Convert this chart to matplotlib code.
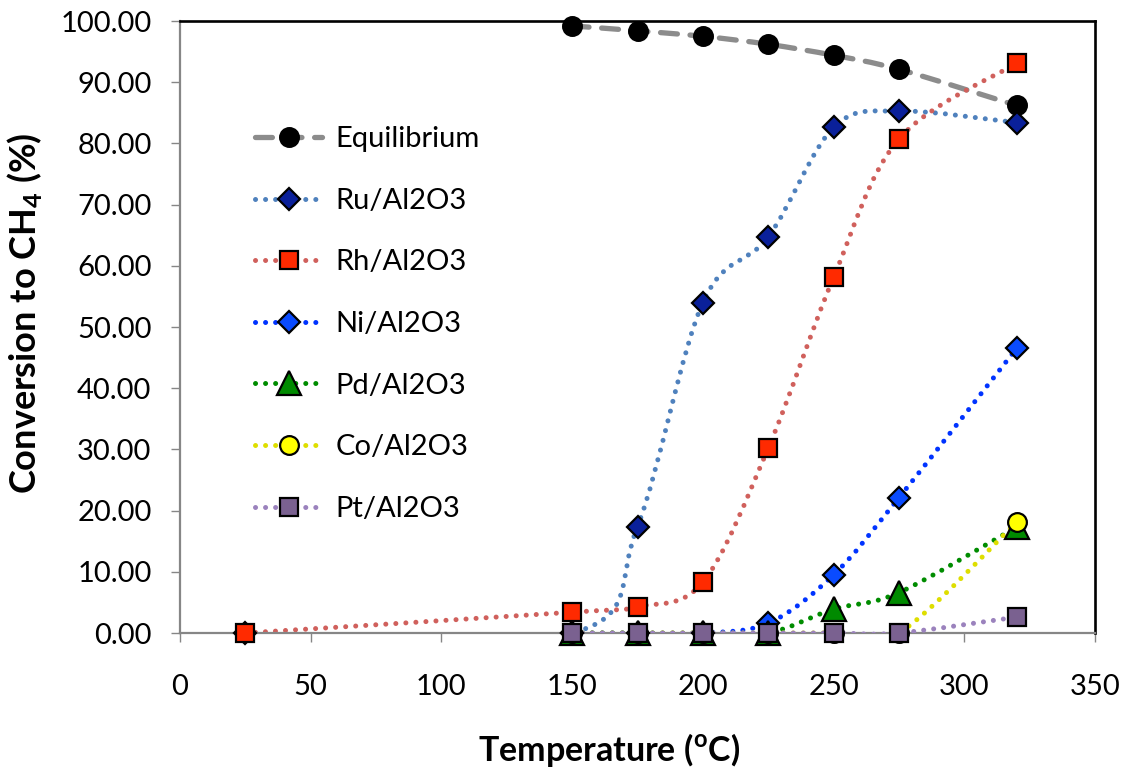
import numpy as np
import matplotlib
matplotlib.use("Agg")
from matplotlib import pyplot as plt
from matplotlib.path import Path
from matplotlib.patches import PathPatch
from matplotlib.lines import Line2D

plt.rcParams['font.family'] = ['Lato', 'DejaVu Sans']
plt.rcParams['mathtext.fontset'] = 'custom'
plt.rcParams['mathtext.rm'] = 'Lato'
plt.rcParams['mathtext.bf'] = 'Lato:bold'

##### data
temp_eq = [150, 175, 200, 225, 250, 275, 320]
equilibrium = [99.2, 98.4, 97.5, 96.2, 94.4, 92.1, 86.2]

temp_ru = [25, 150, 175, 200, 225, 250, 275, 320]
ru = [0.0, 0.0, 17.4, 54.0, 64.7, 82.6, 85.3, 83.4]

temp_rh = [25, 150, 175, 200, 225, 250, 275, 320]
rh = [0.0, 3.4, 4.3, 8.3, 30.2, 58.1, 80.7, 93.1]

temp_cat = [150, 175, 200, 225, 250, 275, 320]
ni = [0.0, 0.0, 0.0, 1.6, 9.5, 22.1, 46.5]
pd_ = [0.0, 0.0, 0.0, 0.0, 3.9, 6.6, 17.3]
co = [0.0, 0.0, 0.0, 0.0, 0.0, 0.0, 18.1]
pt = [0.0, 0.0, 0.0, 0.0, 0.0, 0.0, 2.6]

x_ticks = [0, 50, 100, 150, 200, 250, 300, 350]
y_ticks = [0, 10, 20, 30, 40, 50, 60, 70, 80, 90, 100]

DOT = (0, (0.01, 2.0))

# (label, x, y, line colour, marker, face colour, marker size, line style, line width)
series = [
    ('Equilibrium', temp_eq, equilibrium, '#8c8c8c', 'o', '#000000', 13.5, (0, (3.2, 2.4)), 3.8),
    ('Ru/Al2O3', temp_ru, ru, '#4f81bd', 'D', '#0a209a', 11.5, DOT, 3.6),
    ('Rh/Al2O3', temp_rh, rh, '#d0605c', 's', '#ff2a00', 13, DOT, 3.6),
    ('Ni/Al2O3', temp_cat, ni, '#0033ff', 'D', '#0a4bff', 11.5, DOT, 3.6),
    ('Pd/Al2O3', temp_cat, pd_, '#008c00', '^', '#008a00', 17, DOT, 3.6),
    ('Co/Al2O3', temp_cat, co, '#dede00', 'o', '#ffff00', 13.5, DOT, 3.6),
    ('Pt/Al2O3', temp_cat, pt, '#9b82bd', 's', '#7a6190', 13, DOT, 3.6),
]


def smooth_path(x, y):
    # Excel-style smoothed line: Catmull-Rom through the points as cubic Beziers
    p = np.column_stack([x, y]).astype(float)
    verts = [p[0]]
    codes = [Path.MOVETO]
    for i in range(len(p) - 1):
        p0 = p[i - 1] if i > 0 else p[i]
        p3 = p[i + 2] if i + 2 < len(p) else p[i + 1]
        verts += [p[i] + (p[i + 1] - p0) / 6, p[i + 1] - (p3 - p[i]) / 6, p[i + 1]]
        codes += [Path.CURVE4] * 3
    return Path(verts, codes)


fig = plt.figure(figsize=(11.22, 7.72), dpi=100)
ax = fig.add_axes([180 / 1122, 1 - 633 / 772, 915 / 1122, 612 / 772])

handles = []
for k, (lab, x, y, lc, mk, fc, ms, ls, lw) in enumerate(series):
    patch = PathPatch(smooth_path(x, y), fill=False, edgecolor=lc, lw=lw,
                      linestyle=ls, capstyle='round', zorder=2 + k * 0.1)
    ax.add_patch(patch)
    ax.plot(x, y, linestyle='none', marker=mk, ms=ms, mfc=fc, mec='black',
            mew=1.6, zorder=5 + k * 0.1, clip_on=False)
    handles.append(Line2D([], [], color=lc, lw=lw, linestyle=ls,
                          dash_capstyle='round', marker=mk, ms=ms, mfc=fc,
                          mec='black', mew=1.6, label=lab))

ax.set_xlim(0, 350)
ax.set_ylim(0, 100)
ax.set_xticks(x_ticks)
ax.set_yticks(y_ticks)
ax.set_yticklabels(['%.2f' % v for v in y_ticks])
ax.tick_params(axis='both', labelsize=21, color='#868686', width=1, length=6.5,
               direction='out')
ax.tick_params(axis='x', pad=23)
ax.tick_params(axis='y', pad=14)
for s in ['left', 'bottom']:
    ax.spines[s].set_color('#868686')
    ax.spines[s].set_linewidth(1.6)
for s in ['top', 'right']:
    ax.spines[s].set_color('black')
    ax.spines[s].set_linewidth(1.9)

leg = ax.legend(handles=handles, loc='upper left', bbox_to_anchor=(0.082, 0.828),
                frameon=False, fontsize=21, numpoints=1, handlelength=2.3,
                handletextpad=0.45, labelspacing=1.22, borderpad=0,
                borderaxespad=0)

fig.text(609 / 1122, 1 - 750 / 772, r'Temperature ($^\mathbf{o}$C)', fontsize=24.5,
         fontweight='bold', ha='center', va='center')
fig.text(25 / 1122, 1 - 313 / 772, r'Conversion to CH$_\mathbf{4}$ (%)', fontsize=26,
         fontweight='bold', ha='center', va='center', rotation=90)

plt.savefig('out.png', dpi=100)
